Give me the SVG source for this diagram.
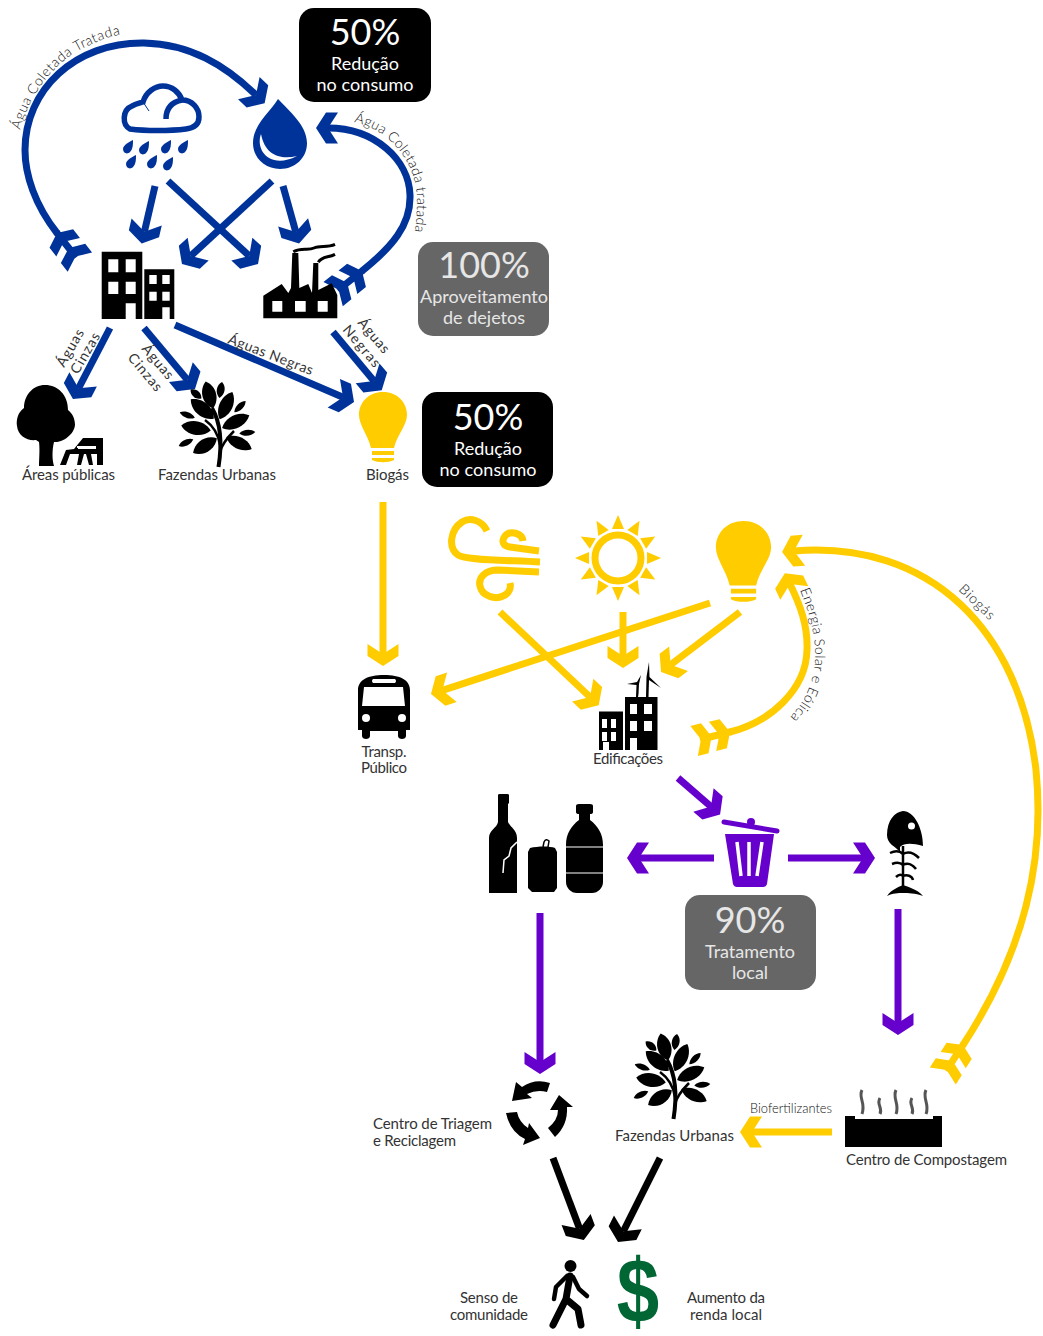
<svg xmlns="http://www.w3.org/2000/svg" xmlns:xlink="http://www.w3.org/1999/xlink" width="1043" height="1336" viewBox="0 0 1043 1336">
<style>
text{font-family:"Lato","Open Sans","Liberation Sans",sans-serif}
.lb{font-size:15px;fill:#333}
.rt{font-size:14px;fill:#333}
.th{font-size:14px;fill:#111;font-weight:300}
.c{text-anchor:middle}
.big{font-size:36px;fill:#fff;text-anchor:middle}
.sm{font-size:18px;fill:#fff;text-anchor:middle}
.gb{fill:#e6e6e6}
.ln{fill:none;stroke-width:7}
.bl{stroke:#003399}.ye{stroke:#ffcc00}.pu{stroke:#6600cc}.bk{stroke:#000}
.fb{fill:#003399}.fy{fill:#ffcc00}.fp{fill:#6600cc}.fk{fill:#000}.fw{fill:#fff}
</style>
<defs>
<path id="hd" d="M12 0L2 15.500H-10L0 0L-10-15.500H2Z"/>
<path id="fe" d="M0 0L-7 15H-18L-11 0L-18-15H-7ZM-19 0L-26 15.500H-37L-30 0L-37-15.500H-26ZM-31-3.500H1V3.500H-31Z"/>
<marker id="hb" markerUnits="userSpaceOnUse" orient="auto" overflow="visible" markerWidth="1" markerHeight="1"><use xlink:href="#hd" class="fb"/></marker>
<marker id="hy" markerUnits="userSpaceOnUse" orient="auto" overflow="visible" markerWidth="1" markerHeight="1"><use xlink:href="#hd" class="fy"/></marker>
<marker id="hp" markerUnits="userSpaceOnUse" orient="auto" overflow="visible" markerWidth="1" markerHeight="1"><use xlink:href="#hd" class="fp"/></marker>
<marker id="hk" markerUnits="userSpaceOnUse" orient="auto" overflow="visible" markerWidth="1" markerHeight="1"><use xlink:href="#hd" class="fk"/></marker>
<marker id="tb" markerUnits="userSpaceOnUse" orient="auto" overflow="visible" markerWidth="1" markerHeight="1"><use xlink:href="#fe" class="fb"/></marker>
<marker id="ty" markerUnits="userSpaceOnUse" orient="auto" overflow="visible" markerWidth="1" markerHeight="1"><use xlink:href="#fe" class="fy"/></marker>
<path id="rd" d="M5-7C5-3 5 2 2 5C-1 8-5 6-5 2C-5-2 1-5 5-7Z"/>
<path id="leaf" d="M0-1C.8-.5.8.5 0 1C-.8.5-.8-.5 0-1Z"/>
<path id="bulb" d="M383 392C369 392 359 402 359 415C359 425 368 435 371 448H394C397 435 407 425 407 415C407 402 397 392 383 392ZM372 451H394V455H372ZM372 458H394V460C388 463 378 463 372 460Z"/>
<g id="plant">
<path d="M218.500 467C222 445 222 425 212 408" fill="none" stroke="#000" stroke-width="4"/>
<path d="M205 420C212 425 218 432 220 445M234 431C228 437 222 444 220 452" fill="none" stroke="#000" stroke-width="2.500"/>
<use xlink:href="#leaf" transform="translate(209.300,395) rotate(-15) scale(11.500,14)"/>
<use xlink:href="#leaf" transform="translate(220.700,390) rotate(10) scale(6.500,8)"/>
<use xlink:href="#leaf" transform="translate(196,394) rotate(-50) scale(6,7)"/>
<use xlink:href="#leaf" transform="translate(226,405.700) rotate(25) scale(11,15)"/>
<use xlink:href="#leaf" transform="translate(202.300,409) rotate(-50) scale(11.500,15)"/>
<use xlink:href="#leaf" transform="translate(240,406.700) rotate(45) scale(5,8)"/>
<use xlink:href="#leaf" transform="translate(187.300,415) rotate(-70) scale(5,8)"/>
<use xlink:href="#leaf" transform="translate(235.700,421.700) rotate(65) scale(11,15)"/>
<use xlink:href="#leaf" transform="translate(196,428) rotate(-80) scale(11.500,15)"/>
<use xlink:href="#leaf" transform="translate(247.300,432.700) rotate(85) scale(5,8)"/>
<use xlink:href="#leaf" transform="translate(186,442.700) rotate(65) scale(5,8)"/>
<use xlink:href="#leaf" transform="translate(205,445.700) rotate(58) scale(11,14)"/>
<use xlink:href="#leaf" transform="translate(239,443) rotate(-65) scale(10,14)"/>
</g>
</defs>

<g id="connectors">
<path class="ln bl" marker-start="url(#tb)" marker-end="url(#hb)" d="M57 233C35 205 25 175 25 150C25 90 75 42 144 43C190 44 225 65 256 95"/>
<path class="ln bl" marker-start="url(#tb)" marker-end="url(#hb)" d="M362 271C392 247 411 225 410 195C409 160 375 128 328 128"/>
<path class="ln bl" marker-end="url(#hb)" d="M155 186L144.400 231.700"/>
<path class="ln bl" marker-end="url(#hb)" d="M168 181L249.200 255.900"/>
<path class="ln bl" marker-end="url(#hb)" d="M272 181L190.800 255.900"/>
<path class="ln bl" marker-end="url(#hb)" d="M283 186L295.800 232"/>
<path class="ln bl" marker-end="url(#hb)" d="M110 328L78.500 388.300"/>
<path class="ln bl" marker-end="url(#hb)" d="M144 328L187.300 379.800"/>
<path class="ln bl" marker-end="url(#hb)" d="M175 325L343 397.300"/>
<path class="ln bl" marker-end="url(#hb)" d="M333 332L374 381"/>
<path class="ln ye" marker-end="url(#hy)" d="M383 502V654"/>
<path class="ln ye" marker-end="url(#hy)" d="M710 603L442.400 690.300"/>
<path class="ln ye" marker-end="url(#hy)" d="M500 612L590 697"/>
<path class="ln ye" marker-end="url(#hy)" d="M623 612V656"/>
<path class="ln ye" marker-end="url(#hy)" d="M740 612L670.600 664.800"/>
<path class="ln ye" marker-start="url(#ty)" marker-end="url(#hy)" d="M730 732C770 722 806 690 807 650C808 625 800 605 790 584"/>
<path class="ln ye" marker-start="url(#ty)" marker-end="url(#hy)" d="M963 1045C1025 950 1045 860 1036 770C1020 630 930 540 794 551"/>
<path class="ln ye" marker-end="url(#hy)" d="M832 1132H752"/>
<path class="ln pu" marker-end="url(#hp)" d="M678 778L711 806.600"/>
<path class="ln pu" marker-end="url(#hp)" d="M714 858H639"/>
<path class="ln pu" marker-end="url(#hp)" d="M788 858H863"/>
<path class="ln pu" marker-end="url(#hp)" d="M540 913V1062"/>
<path class="ln pu" marker-end="url(#hp)" d="M898 909V1023"/>
<path class="ln bk" marker-end="url(#hk)" d="M553 1158L579.600 1228.800"/>
<path class="ln bk" marker-end="url(#hk)" d="M660 1158L623.400 1231.300"/>
</g>

<g id="connector-labels">
<path id="p1" d="M20 130C30 92 58 58 88 46C98 41 110 36 124 34" fill="none"/>
<text class="th"><textPath xlink:href="#p1" textLength="146">Água Coletada Tratada</textPath></text>
<path id="p2" d="M354 122C392 130 417 165 417 200C417 215 416 225 414 236" fill="none"/>
<text class="th"><textPath xlink:href="#p2" textLength="140">Água Coletada tratada</textPath></text>
<path id="p3" d="M800 590C812 620 816 640 815 660C813 690 800 708 785 722" fill="none"/>
<text class="th"><textPath xlink:href="#p3" textLength="136">Energia Solar e Eólica</textPath></text>
<text class="th" transform="translate(958,590) rotate(44)" textLength="44">Biogás</text>
<text class="rt" transform="translate(227,343) rotate(21)" textLength="90">Águas Negras</text>
<text class="rt" transform="translate(64,368) rotate(-60)" textLength="41">Águas</text>
<text class="rt" transform="translate(78,375) rotate(-60)" textLength="45">Cinzas</text>
<text class="rt" transform="translate(141,349) rotate(50)" textLength="41">Águas</text>
<text class="rt" transform="translate(127,358) rotate(50)" textLength="45">Cinzas</text>
<text class="rt" transform="translate(357,323) rotate(50)" textLength="41">Águas</text>
<text class="rt" transform="translate(342,330) rotate(50)" textLength="50">Negras</text>
<text class="th" x="750" y="1113" textLength="82" lengthAdjust="spacingAndGlyphs">Biofertilizantes</text>
</g>

<g id="box-reducao-1"><rect x="299" y="8" width="132" height="94" rx="15" class="fk"/>
<text class="big" x="365" y="45">50%</text><text class="sm" x="365" y="70">Redução</text><text class="sm" x="365" y="91" textLength="97">no consumo</text></g>
<g id="box-dejetos"><rect x="418" y="242" width="131" height="94" rx="15" fill="#666"/>
<text class="big gb" x="484" y="278">100%</text><text class="sm gb" x="484" y="303" textLength="128">Aproveitamento</text><text class="sm gb" x="484" y="324" textLength="82">de dejetos</text></g>
<g id="box-reducao-2"><rect x="422" y="392" width="131" height="95" rx="15" class="fk"/>
<text class="big" x="488" y="430">50%</text><text class="sm" x="488" y="455">Redução</text><text class="sm" x="488" y="476" textLength="97">no consumo</text></g>
<g id="box-tratamento"><rect x="685" y="895" width="131" height="95" rx="15" fill="#666"/>
<text class="big gb" x="750" y="933">90%</text><text class="sm gb" x="750" y="958" textLength="90">Tratamento</text><text class="sm gb" x="750" y="979">local</text></g>

<g id="node-cloud">
<path d="M130 129C122 125 122 110 132 106C136 104 140 103 143 102C146 92 155 86 163 86C172 86 179 92 182 100C192 100 199 108 199 117C199 124 194 128 186 129C170 131 145 131 130 129Z" fill="none" stroke="#003399" stroke-width="5.500"/>
<path d="M166 119C166 108 172 102 182 100" fill="none" stroke="#003399" stroke-width="5.500"/>
<path d="M143 102L149 111" fill="none" stroke="#003399" stroke-width="1"/>
<g class="fb"><use xlink:href="#rd" x="128" y="147"/><use xlink:href="#rd" x="144" y="148"/><use xlink:href="#rd" x="166" y="147"/><use xlink:href="#rd" x="183" y="147"/><use xlink:href="#rd" x="131" y="162"/><use xlink:href="#rd" x="152" y="162"/><use xlink:href="#rd" x="168" y="164"/></g>
</g>
<g id="node-drop">
<path class="fb" d="M278 99C270 112 253 125 253 143C253 158 265 169 280 169C295 169 307 158 307 143C307 125 288 110 278 99Z"/>
<path class="fw" d="M261 134C255 150 270 170 297 156C280 160 265 155 261 134Z"/>
</g>
<g id="node-building">
<path class="fk" d="M101.700 251.700H142.300V319H101.700ZM144.300 269.300H174.300V319H144.300Z"/>
<path class="fw" d="M108.300 259.300H118.300V272.300H108.300ZM125.700 259.300H135.700V272.300H125.700ZM108.300 281.700H118.300V294H108.300ZM125.700 281.700H135.700V294H125.700ZM125.700 303.300H135.700V319H125.700ZM149.300 275H156.700V284H149.300ZM162.300 275H169.700V284H162.300ZM149.300 291.700H156.700V300.700H149.300ZM162.300 291.700H169.700V300.700H162.300ZM162.300 307.300H169.700V319H162.300Z"/>
</g>
<g id="node-factory">
<path class="fk" fill-rule="evenodd" d="M263.300 295.700L281.700 284L288.300 293L291 288L292.300 253H298.300L299.300 288L308.300 284L312 293L313.300 263H318.300L318.300 290L331.700 283.300L337.300 295V318.300H263.300ZM272.300 301V311.700H282.300V301ZM295 301V311.700H305.700V301ZM317.700 301V311.700H327.700V301Z"/>
<path d="M293.300 251.700C302 247 308 251 314 248C320 245 327 248 335 244.300M318.300 262.300C322 256 328 258 335 254.300" fill="none" stroke="#000" stroke-width="3"/>
</g>
<g id="node-areas">
<path class="fk" d="M45 385C33 385 24 395 24 408C18 412 16 420 17 426C18 436 27 441 36 440L39 442C40 450 39 460 39 466H54C52 460 52 450 54 442C62 443 74 435 75 425C75 418 72 413 68 410C68 395 58 385 45 385Z"/>
<path class="fk" d="M83 438H103V465H97V454H70L66 465H60L66 450L74 449ZM78 447V449H96V447ZM79 454H84L81 465H77ZM86 454H91L93 465H89Z"/>
<path class="fw" d="M77 446H96V448H77Z"/>
<text class="lb" x="22" y="480" textLength="93">Áreas públicas</text>
</g>
<g id="node-fazendas-1"><use xlink:href="#plant"/><text class="lb" x="158" y="480" textLength="118">Fazendas Urbanas</text></g>
<g id="node-biogas-1"><use xlink:href="#bulb" class="fy"/><text class="lb" x="366" y="480" textLength="43">Biogás</text></g>
<g id="node-wind"><path class="ln ye" d="M487 531C482 520 470 517 462 522C450 530 448 548 458 555C465 560 500 560 540 562M523 541C522 533 510 530 505 536C501 541 503 546 510 547L539 551M539 572L498 570C485 570 478 578 480 586C482 596 495 600 503 596C510 593 511 587 510 583"/></g>
<g id="node-sun">
<circle cx="618" cy="558" r="23" class="ln ye"/>
<g class="fy"><path id="ray" d="M618 515L624 529L612 529Z"/>
<use xlink:href="#ray" transform="rotate(30 618 558)"/><use xlink:href="#ray" transform="rotate(60 618 558)"/><use xlink:href="#ray" transform="rotate(90 618 558)"/><use xlink:href="#ray" transform="rotate(120 618 558)"/><use xlink:href="#ray" transform="rotate(150 618 558)"/><use xlink:href="#ray" transform="rotate(180 618 558)"/><use xlink:href="#ray" transform="rotate(210 618 558)"/><use xlink:href="#ray" transform="rotate(240 618 558)"/><use xlink:href="#ray" transform="rotate(270 618 558)"/><use xlink:href="#ray" transform="rotate(300 618 558)"/><use xlink:href="#ray" transform="rotate(330 618 558)"/></g>
</g>
<g id="node-bulb-2"><use xlink:href="#bulb" class="fy" transform="translate(743.500,521) scale(1.150) translate(-383,-392)"/></g>
<g id="node-bus">
<path class="fk" fill-rule="evenodd" d="M358 690C358 680 368 675 384 675C400 675 410 680 410 690V730H406V736C406 740 398 740 398 736V731H370V736C370 740 362 740 362 736V730H358Z"/>
<path class="fw" d="M364 687H403L405 706H362ZM373 679H395Q397 681 395 683H373Q371 681 373 679Z"/>
<circle class="fw" cx="366" cy="718" r="4"/><circle class="fw" cx="402" cy="718" r="4"/>
<text class="lb c" x="384" y="757" textLength="45">Transp.</text><text class="lb c" x="384" y="773" textLength="46">Público</text>
</g>
<g id="node-edificacoes">
<path class="fk" d="M599 711.500H623V750H599ZM625 697H657.500V750H625Z"/>
<path class="fw" d="M602 719H607V728H602ZM611 719H616V728H611ZM602 732H607V741H602ZM611 732H616V741H611ZM603 742H609V750H603ZM630 704H637V714H630ZM644 704H652V714H644ZM630 721H637V731H630ZM644 721H652V731H644ZM630 738H637V750H630Z"/>
<path class="fk" d="M646 697L646.500 677L649 662L649.500 677L661 688L649 680L648.500 697ZM636 697L636.500 685L627 684L637 682L641 675L639 684L638.500 694L638 697Z"/>
<text class="lb" x="593" y="764" textLength="70">Edificações</text>
</g>
<g id="node-recyclables">
<path class="fk" d="M498 795Q498 794 500 794H507Q509 794 509 795V803L508 804V822C511 828 517 830 517 838V893H489V838C489 830 497 828 498 822V804L498 803Z"/>
<path d="M517 842L511 848L509 856L504 860L503 873" fill="none" stroke="#fff" stroke-width="1.500"/>
<path class="fk" d="M530 848C538 846 550 846 555 848L557 852V888L554 892H532L528 888V852Z"/>
<path d="M543 847L544 842Q546 838 549 841L548 847" fill="none" stroke="#000" stroke-width="1.500"/>
<path class="fk" d="M576 806Q576 804 579 804H590Q593 804 593 806V812Q593 814 590 814V820C598 826 603 834 603 845V882C603 888 598 893 592 893H577C571 893 566 888 566 882V845C566 834 571 826 579 820V814Q576 814 576 812Z"/>
<path d="M566 847H603M566 873H603" stroke="#fff" stroke-width="1.200"/>
</g>
<g id="node-trash">
<path d="M724 822L777 831" stroke="#6600cc" stroke-width="5" stroke-linecap="round"/><circle cx="751" cy="822" r="4" class="fp"/>
<path class="fp" d="M725 834L774 834L767 884Q766 887 763 887H737Q734 887 733 884Z"/>
<path d="M737 842L741 876M749 842V876M762 842L757 876" stroke="#fff" stroke-width="3.500" fill="none"/>
</g>
<g id="node-fish">
<path class="fk" d="M887 835C887 820 895 812 903 811C914 811 923 828 923 846C912 843 904 843 900 847V852C895 846 887 844 887 835Z"/>
<circle class="fw" cx="911.500" cy="826" r="3.500"/>
<path d="M903 846V888M890 853C896 850 900 851 903 854C908 851 914 853 919 858M892 864C897 862 900 862 903 865C908 862 913 865 916 869M896 877C899 874 901 874 903 876C907 874 912 876 913 880" fill="none" stroke="#000" stroke-width="2.500"/>
<path class="fk" d="M887 896C892 889 899 887 903 885C908 887 917 889 923 896C915 893 908 893 903 893C898 893 893 893 887 896Z"/>
</g>
<g id="node-triagem">
<path class="fk" d="M550 1083Q535 1078 522 1087L516 1082L512 1101L532 1098L527 1094Q537 1089 547 1092Z"/>
<path class="fk" d="M559 1095L573 1107L567 1107Q568 1125 555 1137L548 1128Q558 1120 558 1110L550 1110Z"/>
<path class="fk" d="M506 1113L517 1112Q519 1122 528 1128L529 1123L540 1138L523 1145L525 1139Q510 1132 506 1113Z"/>
<text class="lb" x="373" y="1129" textLength="119">Centro de Triagem</text><text class="lb" x="373" y="1146" textLength="83">e Reciclagem</text>
</g>
<g id="node-fazendas-2"><use xlink:href="#plant" transform="translate(455,652)"/><text class="lb" x="615" y="1141" textLength="119">Fazendas Urbanas</text></g>
<g id="node-compostagem">
<path class="fk" d="M845 1116H855V1119H933V1116H942V1147H845Z"/>
<path d="M862 1090C858 1098 866 1102 862 1114M880 1098C876 1104 883 1108 880 1114M896 1090C892 1098 900 1104 896 1114M912 1098C908 1104 915 1108 912 1114M926 1090C922 1098 930 1104 926 1114" fill="none" stroke="#555" stroke-width="3"/>
<text class="lb" x="846" y="1165" textLength="161">Centro de Compostagem</text>
</g>
<g id="node-senso">
<circle class="fk" cx="570.500" cy="1266" r="6"/>
<path d="M570 1276L566 1299L553 1325M566 1299L578 1309L581 1325" fill="none" stroke="#000" stroke-width="7" stroke-linecap="round" stroke-linejoin="round"/>
<path d="M567 1276L556 1287L554 1299M573 1277L579 1289L587 1296" fill="none" stroke="#000" stroke-width="4.500" stroke-linecap="round" stroke-linejoin="round"/>
<text class="lb c" x="489" y="1303" textLength="58">Senso de</text><text class="lb c" x="489" y="1320" textLength="78">comunidade</text>
</g>
<g id="node-renda">
<text transform="translate(638,1322) scale(.93,1.100)" text-anchor="middle" style="font-family:'Liberation Sans',sans-serif;font-size:82px;font-weight:700" fill="#006633">$</text>
<text class="lb c" x="726" y="1303" textLength="78">Aumento da</text><text class="lb c" x="726" y="1320" textLength="72">renda local</text>
</g>
</svg>
